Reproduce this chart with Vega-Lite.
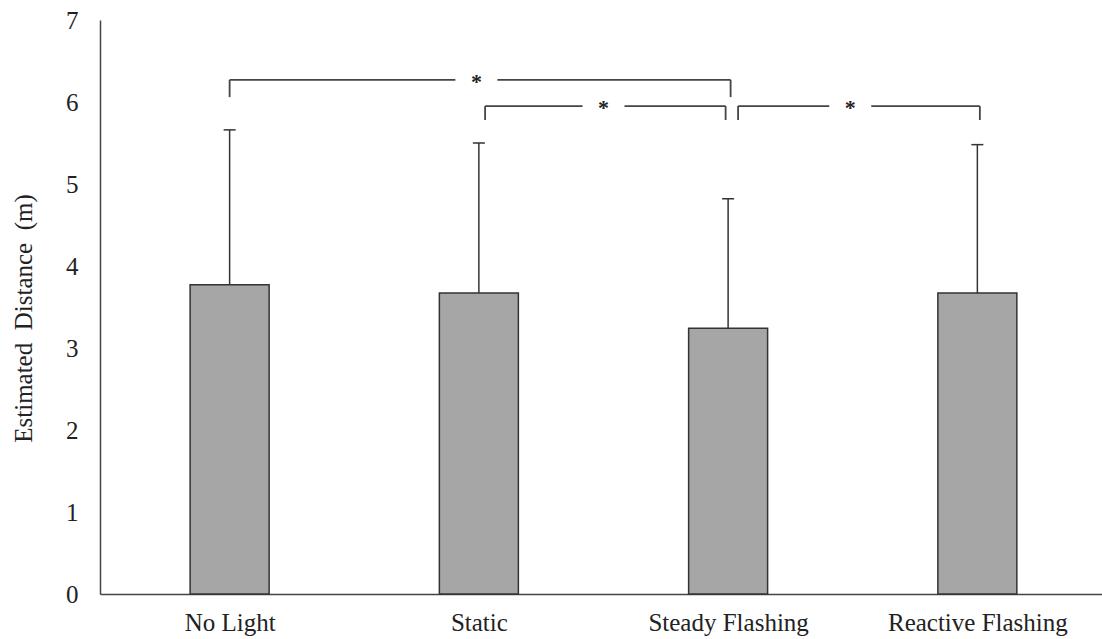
{
  "$schema": "https://vega.github.io/schema/vega-lite/v6.json",
  "width": 1002,
  "height": 574,
  "autosize": "none",
  "padding": {"left": 100, "top": 20, "right": 0, "bottom": 45},
  "background": "white",
  "config": {"view": {"stroke": null}, "font": "Liberation Serif"},
  "datasets": {
    "bars": [
      {"condition": "No Light", "idx": 0, "mean": 3.77, "upper": 5.66},
      {"condition": "Static", "idx": 1, "mean": 3.67, "upper": 5.50},
      {"condition": "Steady Flashing", "idx": 2, "mean": 3.24, "upper": 4.82},
      {"condition": "Reactive Flashing", "idx": 3, "mean": 3.67, "upper": 5.48}
    ],
    "brackets": [
      {"x1": 0, "x2": 2.01, "y": 6.27, "yEnd": 6.06, "xStar": 0.99, "label": "*"},
      {"x1": 1.025, "x2": 1.99, "y": 5.95, "yEnd": 5.78, "xStar": 1.5, "label": "*"},
      {"x1": 2.04, "x2": 3.01, "y": 5.95, "yEnd": 5.78, "xStar": 2.49, "label": "*"}
    ]
  },
  "layer": [
    {
      "data": {"name": "bars"},
      "mark": {"type": "bar", "width": 79, "fill": "#a6a6a6", "stroke": "#333333", "strokeWidth": 1.5},
      "encoding": {
        "x": {
          "field": "idx", "type": "quantitative", "title": null,
          "scale": {"domain": [-0.5, 3.48], "nice": false, "zero": false},
          "axis": {
            "title": null, "values": [0, 1, 2, 3], "grid": false, "ticks": false,
            "labelExpr": "['No Light','Static','Steady Flashing','Reactive Flashing'][datum.value]",
            "labelFont": "Liberation Serif", "labelFontSize": 25, "labelColor": "#222222",
            "labelPadding": 16, "domainColor": "#444444", "domainWidth": 1.5, "labelFlush": false
          }
        },
        "y": {
          "field": "mean", "type": "quantitative", "title": "Estimated\u00a0 Distance\u00a0 (m)",
          "scale": {"domain": [0, 7], "nice": false},
          "axis": {
            "title": "Estimated\u00a0 Distance\u00a0 (m)", "values": [0, 1, 2, 3, 4, 5, 6, 7],
            "format": "d",
            "grid": false, "ticks": false, "labelPadding": 22,
            "labelFont": "Liberation Serif", "labelFontSize": 25, "labelColor": "#222222",
            "titleFont": "Liberation Serif", "titleFontSize": 25, "titleFontWeight": "normal",
            "titleColor": "#222222", "titleX": -77, "titleY": 298, "titleAngle": -90,
            "titleAlign": "center", "titleBaseline": "middle",
            "domainColor": "#444444", "domainWidth": 1.5
          }
        }
      }
    },
    {
      "data": {"name": "bars"},
      "mark": {"type": "rule", "stroke": "#333333", "strokeWidth": 1.5},
      "encoding": {
        "x": {"field": "idx", "type": "quantitative", "title": null},
        "y": {"field": "mean", "type": "quantitative", "title": "Estimated\u00a0 Distance\u00a0 (m)"},
        "y2": {"field": "upper"}
      }
    },
    {
      "data": {"name": "bars"},
      "mark": {"type": "tick", "orient": "horizontal", "size": 12, "thickness": 1.5, "color": "#333333", "opacity": 1},
      "encoding": {
        "x": {"field": "idx", "type": "quantitative", "title": null},
        "y": {"field": "upper", "type": "quantitative", "title": "Estimated\u00a0 Distance\u00a0 (m)"}
      }
    },
    {
      "data": {"name": "brackets"},
      "mark": {"type": "rule", "stroke": "#444444", "strokeWidth": 1.8, "x2Offset": -21},
      "encoding": {
        "x": {"field": "x1", "type": "quantitative", "title": null},
        "x2": {"field": "xStar"},
        "y": {"field": "y", "type": "quantitative", "title": "Estimated\u00a0 Distance\u00a0 (m)"}
      }
    },
    {
      "data": {"name": "brackets"},
      "mark": {"type": "rule", "stroke": "#444444", "strokeWidth": 1.8, "xOffset": 21},
      "encoding": {
        "x": {"field": "xStar", "type": "quantitative", "title": null},
        "x2": {"field": "x2"},
        "y": {"field": "y", "type": "quantitative", "title": "Estimated\u00a0 Distance\u00a0 (m)"}
      }
    },
    {
      "data": {"name": "brackets"},
      "mark": {"type": "rule", "stroke": "#444444", "strokeWidth": 1.8},
      "encoding": {
        "x": {"field": "x1", "type": "quantitative", "title": null},
        "y": {"field": "y", "type": "quantitative", "title": "Estimated\u00a0 Distance\u00a0 (m)"},
        "y2": {"field": "yEnd"}
      }
    },
    {
      "data": {"name": "brackets"},
      "mark": {"type": "rule", "stroke": "#444444", "strokeWidth": 1.8},
      "encoding": {
        "x": {"field": "x2", "type": "quantitative", "title": null},
        "y": {"field": "y", "type": "quantitative", "title": "Estimated\u00a0 Distance\u00a0 (m)"},
        "y2": {"field": "yEnd"}
      }
    },
    {
      "data": {"name": "brackets"},
      "mark": {"type": "text", "font": "Liberation Serif", "fontSize": 22, "fontWeight": "bold", "color": "#222222", "baseline": "middle", "align": "center", "dy": 2},
      "encoding": {
        "x": {"field": "xStar", "type": "quantitative", "title": null},
        "y": {"field": "y", "type": "quantitative", "title": "Estimated\u00a0 Distance\u00a0 (m)"},
        "text": {"field": "label"}
      }
    }
  ]
}
